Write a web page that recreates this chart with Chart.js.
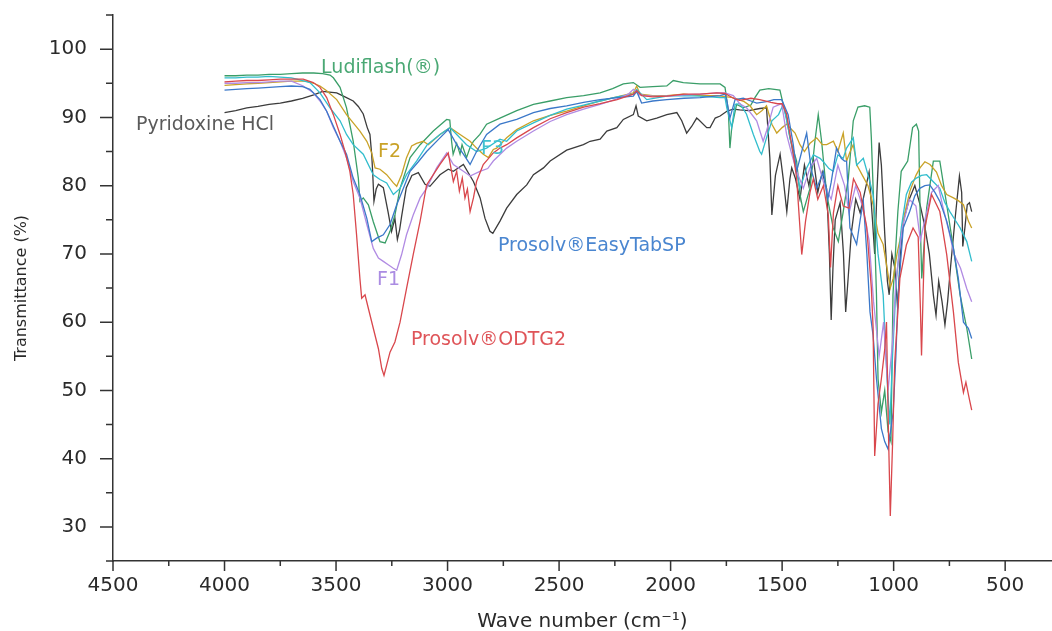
<!DOCTYPE html>
<html>
<head>
<meta charset="utf-8">
<title>FTIR spectra</title>
<script src="https://cdn.jsdelivr.net/npm/chart.js@4.4.1/dist/chart.umd.min.js"></script>
<style>
  html, body { margin: 0; padding: 0; background: #ffffff; }
  #wrap { width: 1052px; height: 631px; position: relative; }
</style>
</head>
<body>
<div id="wrap"><canvas id="ftirChart"></canvas></div>
<script>
// [wave number (cm-1), transmittance (%)]
const pyridoxine = [
  [4000, 90.7], [3950, 91.0], [3900, 91.4], [3850, 91.6], [3800, 91.9], [3750, 92.1], [3700, 92.4],
  [3650, 92.8], [3600, 93.3], [3560, 93.8], [3530, 93.7], [3497, 93.6], [3460, 93.0], [3423, 92.4],
  [3400, 91.6], [3378, 90.5], [3360, 88.5], [3348, 87.5], [3340, 84.5], [3336, 82.1], [3330, 77.7],
  [3320, 79.5], [3310, 80.2], [3288, 79.7], [3267, 76.2], [3251, 73.3], [3236, 75.2], [3225, 72.1],
  [3215, 73.5], [3206, 75.5], [3185, 79.7], [3160, 81.5], [3131, 81.9], [3101, 80.2], [3079, 79.9],
  [3034, 81.6], [2997, 82.4], [2974, 82.1], [2929, 83.1], [2884, 80.6], [2854, 78.2], [2832, 75.2],
  [2810, 73.3], [2797, 73.0], [2765, 74.8], [2735, 76.7], [2690, 78.7], [2645, 80.1], [2615, 81.6],
  [2570, 82.6], [2540, 83.6], [2466, 85.2], [2391, 86.0], [2361, 86.5], [2316, 86.8], [2286, 88.0],
  [2241, 88.5], [2212, 89.7], [2167, 90.4], [2155, 91.7], [2145, 90.2], [2107, 89.5], [2062, 89.9],
  [2017, 90.4], [1972, 90.7], [1950, 89.5], [1928, 87.7], [1905, 88.7], [1883, 89.9], [1875, 89.7],
  [1838, 88.5], [1823, 88.5], [1800, 89.9], [1778, 90.2], [1748, 90.9], [1720, 91.2], [1690, 91.1],
  [1650, 91.0], [1600, 91.3], [1570, 91.4], [1555, 84.0], [1546, 75.7], [1530, 81.5], [1509, 84.6],
  [1495, 81.0], [1479, 76.2], [1465, 81.0], [1457, 82.6], [1440, 81.0], [1420, 78.0], [1400, 83.0],
  [1380, 80.0], [1360, 84.0], [1340, 79.0], [1320, 82.0], [1300, 79.5], [1288, 70.0], [1280, 60.3],
  [1272, 68.0], [1262, 75.0], [1240, 77.5], [1225, 70.0], [1215, 61.5], [1205, 66.0], [1190, 73.0],
  [1170, 78.0], [1150, 76.0], [1130, 79.0], [1110, 82.0], [1095, 75.0], [1085, 70.0], [1075, 79.0],
  [1065, 86.3], [1055, 83.0], [1040, 73.0], [1028, 66.0], [1020, 64.0], [1008, 70.0], [995, 68.0],
  [982, 62.0], [970, 70.0], [955, 75.0], [930, 78.0], [905, 80.0], [880, 77.0], [860, 74.0],
  [840, 70.0], [822, 64.0], [810, 61.0], [798, 66.0], [783, 63.0], [770, 59.6], [758, 63.0],
  [745, 68.0], [725, 75.0], [705, 81.4], [695, 79.0], [690, 71.1], [680, 74.0], [670, 77.2],
  [660, 77.5], [650, 76.2]
];

const ludiflash = [
  [4000, 96.1], [3950, 96.1], [3900, 96.2], [3850, 96.2], [3800, 96.3], [3750, 96.3], [3700, 96.4],
  [3650, 96.5], [3600, 96.5], [3560, 96.4], [3527, 96.2], [3512, 95.8], [3482, 94.4], [3453, 91.4],
  [3423, 86.5], [3400, 81.1], [3393, 77.7], [3378, 78.2], [3355, 77.2], [3333, 74.7], [3303, 71.8],
  [3280, 71.6], [3258, 73.3], [3236, 75.7], [3213, 79.6], [3168, 84.1], [3123, 86.0], [3064, 88.0],
  [3004, 89.7], [2990, 89.6], [2982, 86.5], [2975, 84.6], [2959, 86.2], [2944, 84.6], [2935, 86.0],
  [2915, 84.1], [2900, 85.5], [2884, 86.5], [2855, 87.5], [2825, 89.0], [2765, 89.9], [2690, 91.0],
  [2615, 91.9], [2540, 92.4], [2466, 92.9], [2390, 93.2], [2316, 93.6], [2260, 94.2], [2212, 94.9],
  [2167, 95.1], [2137, 94.4], [2080, 94.5], [2017, 94.6], [1988, 95.4], [1943, 95.1], [1868, 94.9],
  [1778, 94.9], [1756, 94.4], [1741, 90.9], [1734, 85.5], [1726, 88.5], [1704, 91.9], [1674, 91.4],
  [1640, 91.8], [1622, 92.9], [1600, 94.0], [1560, 94.2], [1510, 94.0], [1495, 91.9], [1480, 89.9],
  [1465, 87.0], [1435, 83.6], [1420, 78.7], [1405, 76.2], [1375, 79.6], [1353, 86.5], [1338, 90.4],
  [1323, 86.5], [1300, 78.7], [1271, 73.8], [1248, 71.8], [1226, 76.2], [1203, 81.1], [1181, 89.5],
  [1160, 91.5], [1130, 91.7], [1107, 91.5], [1100, 87.0], [1088, 76.0], [1077, 64.0], [1070, 51.7],
  [1055, 46.8], [1040, 50.0], [1025, 44.0], [1012, 42.5], [1003, 64.0], [981, 76.2], [966, 82.1],
  [937, 83.6], [915, 88.5], [898, 89.0], [888, 88.0], [880, 73.8], [874, 66.4], [852, 76.7],
  [822, 83.6], [793, 83.6], [762, 77.2], [732, 70.8], [702, 64.0], [672, 59.1], [650, 54.6]
];

const f2 = [
  [4000, 94.7], [3950, 94.8], [3900, 94.9], [3850, 95.0], [3800, 95.1], [3750, 95.2], [3700, 95.3],
  [3633, 95.3], [3600, 95.0], [3572, 94.6], [3542, 93.9], [3497, 92.6], [3453, 90.4], [3423, 89.2],
  [3393, 88.0], [3362, 86.5], [3340, 84.8], [3325, 82.6], [3303, 82.4], [3273, 81.6], [3243, 80.4],
  [3228, 79.9], [3206, 81.6], [3184, 84.1], [3161, 85.8], [3139, 86.2], [3109, 86.5], [3086, 86.0],
  [3034, 87.5], [2989, 88.5], [2944, 87.5], [2899, 86.5], [2870, 85.5], [2840, 84.6], [2817, 84.1],
  [2795, 85.3], [2780, 85.5], [2735, 87.0], [2690, 88.2], [2615, 89.5], [2540, 90.3], [2466, 90.9],
  [2390, 91.7], [2316, 92.4], [2240, 93.0], [2167, 93.6], [2152, 94.6], [2137, 93.4], [2080, 93.2],
  [2017, 93.2], [1943, 93.4], [1868, 93.2], [1793, 93.2], [1719, 92.9], [1670, 92.3], [1644, 91.7],
  [1614, 90.4], [1590, 91.0], [1570, 91.7], [1546, 89.0], [1524, 87.7], [1500, 88.5], [1480, 89.0],
  [1442, 87.7], [1420, 86.0], [1400, 85.0], [1375, 86.2], [1345, 87.0], [1320, 86.0], [1300, 86.0],
  [1270, 86.5], [1250, 85.0], [1226, 87.7], [1211, 83.6], [1195, 85.0], [1181, 86.0], [1165, 83.0],
  [1140, 81.5], [1115, 80.0], [1092, 77.2], [1070, 73.0], [1047, 71.4], [1030, 68.0], [1015, 65.0],
  [1002, 66.4], [985, 70.0], [972, 72.0], [950, 76.0], [927, 79.2], [900, 81.5], [882, 82.6],
  [860, 83.5], [837, 83.1], [808, 82.0], [785, 80.0], [762, 78.7], [732, 78.2], [710, 77.8],
  [687, 77.2], [665, 74.8], [650, 73.8]
];

const f3 = [
  [4000, 95.8], [3950, 95.8], [3900, 95.9], [3850, 95.9], [3800, 96.0], [3750, 95.9], [3700, 95.8],
  [3676, 95.6], [3617, 95.1], [3572, 93.6], [3527, 91.4], [3482, 89.5], [3453, 87.5], [3423, 86.0],
  [3378, 84.6], [3333, 81.6], [3303, 80.9], [3273, 80.4], [3243, 78.7], [3213, 79.6], [3184, 81.6],
  [3139, 83.6], [3091, 86.0], [3034, 87.5], [2989, 88.5], [2959, 87.5], [2915, 86.0], [2870, 85.0],
  [2825, 85.5], [2765, 86.8], [2735, 86.5], [2690, 88.0], [2615, 89.2], [2540, 90.3], [2466, 91.2],
  [2390, 91.8], [2316, 92.4], [2240, 93.0], [2167, 93.4], [2152, 94.1], [2107, 92.6], [2017, 93.1],
  [1940, 93.2], [1868, 93.1], [1778, 92.9], [1756, 92.9], [1748, 91.4], [1726, 88.5], [1711, 91.9],
  [1689, 92.0], [1660, 90.5], [1629, 87.5], [1600, 85.0], [1592, 84.6], [1570, 87.0], [1546, 89.5],
  [1516, 90.4], [1495, 91.9], [1473, 88.5], [1442, 83.1], [1420, 79.6], [1390, 82.6], [1360, 84.5],
  [1330, 84.0], [1315, 83.5], [1290, 82.5], [1271, 82.1], [1250, 84.5], [1226, 84.0], [1211, 85.5],
  [1181, 87.0], [1166, 83.0], [1136, 84.0], [1110, 81.0], [1092, 78.7], [1070, 70.0], [1047, 64.0],
  [1030, 52.0], [1017, 45.0], [1005, 55.0], [988, 66.0], [965, 74.0], [943, 78.7], [920, 80.5],
  [898, 81.1], [875, 81.5], [852, 81.6], [820, 80.5], [793, 79.6], [770, 77.5], [748, 76.2],
  [725, 75.0], [702, 73.8], [672, 71.8], [650, 68.9]
];

const easyTabSP = [
  [4000, 94.0], [3950, 94.1], [3900, 94.2], [3850, 94.3], [3800, 94.4], [3750, 94.5], [3700, 94.6],
  [3650, 94.5], [3617, 94.1], [3572, 92.6], [3542, 90.9], [3512, 88.7], [3482, 86.5], [3453, 84.6],
  [3423, 81.1], [3393, 78.7], [3362, 75.2], [3340, 71.8], [3318, 72.3], [3288, 72.8], [3258, 74.3],
  [3228, 77.2], [3198, 79.6], [3168, 82.1], [3131, 83.5], [3094, 85.0], [3034, 87.0], [2997, 88.2],
  [2959, 86.0], [2929, 84.6], [2899, 83.1], [2870, 85.0], [2825, 87.5], [2765, 89.0], [2690, 89.7],
  [2615, 90.7], [2540, 91.3], [2466, 91.7], [2390, 92.2], [2316, 92.6], [2240, 92.9], [2167, 93.1],
  [2152, 93.8], [2130, 92.1], [2080, 92.4], [2017, 92.6], [1940, 92.8], [1868, 92.9], [1778, 93.2],
  [1756, 93.4], [1748, 92.5], [1734, 89.9], [1711, 92.6], [1674, 92.8], [1640, 92.4], [1614, 92.1],
  [1570, 92.3], [1537, 92.6], [1502, 92.6], [1473, 90.4], [1450, 86.0], [1435, 82.1], [1412, 85.0],
  [1390, 87.7], [1368, 82.1], [1345, 79.6], [1315, 82.0], [1295, 78.0], [1280, 80.5], [1256, 85.5],
  [1235, 84.0], [1220, 83.6], [1211, 83.6], [1196, 73.8], [1180, 72.5], [1166, 71.4], [1150, 75.0],
  [1136, 77.7], [1120, 70.0], [1106, 61.5], [1092, 58.0], [1077, 51.7], [1055, 44.4], [1040, 42.5],
  [1025, 41.4], [1002, 46.8], [990, 55.0], [980, 64.0], [957, 73.8], [928, 76.2], [905, 78.5],
  [883, 79.6], [860, 80.0], [838, 80.1], [815, 79.0], [793, 77.7], [762, 74.8], [732, 70.8],
  [710, 66.4], [687, 60.0], [665, 59.1], [650, 57.6]
];

const f1 = [
  [4000, 95.0], [3950, 95.0], [3900, 95.1], [3850, 95.1], [3800, 95.2], [3750, 95.3], [3700, 95.3],
  [3647, 94.6], [3602, 93.6], [3572, 92.4], [3542, 90.9], [3512, 88.5], [3482, 86.5], [3453, 84.1],
  [3423, 80.6], [3393, 78.2], [3362, 74.3], [3333, 70.8], [3310, 69.4], [3288, 68.9], [3266, 68.4],
  [3243, 67.9], [3228, 67.6], [3206, 69.9], [3184, 72.8], [3154, 75.7], [3123, 78.2], [3094, 79.6],
  [3049, 82.6], [3004, 84.8], [2974, 83.1], [2929, 82.1], [2899, 81.4], [2855, 82.1], [2820, 82.5],
  [2795, 83.6], [2735, 85.5], [2690, 86.5], [2615, 88.0], [2540, 89.4], [2466, 90.4], [2390, 91.2],
  [2316, 91.9], [2240, 92.7], [2190, 93.4], [2167, 94.1], [2140, 93.3], [2080, 93.1], [2017, 93.1],
  [1940, 93.3], [1868, 93.4], [1793, 93.6], [1756, 93.6], [1719, 93.2], [1690, 92.0], [1659, 91.4],
  [1614, 89.5], [1585, 86.5], [1570, 88.0], [1540, 91.5], [1502, 92.0], [1480, 87.5], [1460, 85.0],
  [1435, 82.1], [1405, 79.6], [1375, 82.6], [1345, 84.0], [1310, 80.0], [1280, 78.0], [1250, 83.0],
  [1220, 80.0], [1200, 76.0], [1170, 80.0], [1140, 77.0], [1110, 72.0], [1090, 63.0], [1065, 55.0],
  [1045, 60.0], [1025, 50.0], [1005, 57.0], [990, 66.0], [960, 74.0], [930, 78.0], [900, 77.0],
  [880, 72.0], [860, 75.0], [830, 79.0], [800, 80.0], [780, 77.0], [750, 73.0], [730, 70.0],
  [700, 67.9], [672, 64.9], [650, 63.0]
];

const odtg2 = [
  [4000, 95.2], [3950, 95.3], [3900, 95.4], [3850, 95.4], [3800, 95.5], [3750, 95.6], [3700, 95.6],
  [3647, 95.6], [3602, 95.1], [3572, 94.4], [3542, 92.9], [3512, 90.4], [3482, 87.5], [3460, 85.0],
  [3438, 82.1], [3423, 78.7], [3408, 72.8], [3393, 66.4], [3385, 63.5], [3370, 64.0], [3355, 62.0],
  [3333, 59.1], [3310, 56.1], [3295, 53.2], [3285, 52.2], [3273, 53.7], [3258, 55.6], [3236, 57.1],
  [3213, 60.0], [3184, 64.9], [3154, 69.9], [3123, 74.8], [3094, 80.1], [3034, 83.1], [2997, 84.8],
  [2974, 80.6], [2959, 82.1], [2947, 79.2], [2934, 81.1], [2922, 78.2], [2911, 79.5], [2899, 76.2],
  [2884, 78.2], [2870, 80.6], [2840, 83.1], [2795, 84.8], [2765, 85.5], [2735, 86.0], [2690, 87.0],
  [2615, 88.5], [2540, 89.8], [2466, 90.7], [2390, 91.5], [2316, 92.0], [2240, 92.6], [2167, 93.4],
  [2152, 93.9], [2130, 93.2], [2080, 93.0], [2017, 93.1], [1940, 93.4], [1868, 93.4], [1793, 93.6],
  [1756, 93.5], [1719, 92.8], [1690, 92.5], [1640, 92.8], [1600, 92.6], [1550, 92.2], [1520, 92.0],
  [1500, 92.0], [1480, 90.5], [1450, 84.6], [1435, 81.1], [1420, 73.8], [1412, 69.9], [1395, 74.8],
  [1375, 79.0], [1360, 81.0], [1340, 78.0], [1315, 80.0], [1293, 75.7], [1283, 68.0], [1270, 76.0],
  [1250, 80.0], [1226, 77.0], [1200, 76.7], [1180, 81.0], [1150, 79.0], [1121, 74.0], [1100, 65.0],
  [1092, 59.1], [1085, 40.4], [1070, 48.0], [1055, 51.7], [1040, 56.0], [1032, 60.0], [1024, 45.0],
  [1015, 31.6], [1005, 42.0], [995, 54.1], [972, 66.4], [943, 71.3], [913, 73.8], [890, 72.5],
  [880, 62.0], [875, 55.1], [868, 64.0], [860, 73.8], [830, 78.7], [793, 76.2], [762, 69.9],
  [732, 61.5], [710, 54.1], [687, 49.7], [676, 51.2], [661, 48.8], [650, 47.1]
];

const seriesNames = ['Prosolv®ODTG2', 'Prosolv®EasyTabSP', 'F1', 'F3', 'F2', 'Ludiflash(®)', 'Pyridoxine HCl'];
const seriesData = [odtg2, easyTabSP, f1, f3, f2, ludiflash, pyridoxine];
const seriesColors = ['#d9474c', '#3b78c9', '#b18be3', '#31bdcd', '#c9a227', '#3a9e68', '#3c3c3c'];

// tick positions: majors carry a label, the ones in between are minor
const xTickValues = [4500, 4250, 4000, 3750, 3500, 3250, 3000, 2750, 2500, 2250, 2000, 1750, 1500, 1250, 1000, 750, 500];
const yTickValues = [25, 30, 35, 40, 45, 50, 55, 60, 65, 70, 75, 80, 85, 90, 95, 100, 105];

// in-plot curve labels: [text, wave number, transmittance, colour]
const curveLabels = [
  ['Ludiflash(®)', 3567, 97.25, '#4aa874'],
  ['Pyridoxine HCl', 4397, 88.9, '#5a5a5a'],
  ['F2', 3312, 84.9, '#c9a227'],
  ['F3', 2850, 85.3, '#40c2d0'],
  ['Prosolv®EasyTabSP', 2774, 71.1, '#4a86d0'],
  ['F1', 3316, 66.1, '#ab8ce2'],
  ['Prosolv®ODTG2', 3164, 57.3, '#df5458']
];

const axisColor = '#333333';
const fontFamily = '"DejaVu Sans", "Liberation Sans", sans-serif';

const tickMarks = {
  id: 'tickMarks',
  afterDraw(chart) {
    const {ctx, scales: {x, y}} = chart;
    ctx.save();
    ctx.strokeStyle = axisColor;
    ctx.lineWidth = 1.5;
    ctx.beginPath();
    x.ticks.forEach(t => {
      const px = x.getPixelForValue(t.value);
      const len = t.value % 500 === 0 ? 10 : 5;
      ctx.moveTo(px, x.top);
      ctx.lineTo(px, x.top + len);
    });
    y.ticks.forEach(t => {
      const py = y.getPixelForValue(t.value);
      const len = t.value % 10 === 0 ? 13 : 7;
      ctx.moveTo(y.right - len, py);
      ctx.lineTo(y.right, py);
    });
    ctx.stroke();
    ctx.restore();
  }
};

const curveLabelPlugin = {
  id: 'curveLabels',
  afterDatasetsDraw(chart) {
    const {ctx, scales: {x, y}} = chart;
    ctx.save();
    ctx.font = '19px ' + fontFamily;
    ctx.textAlign = 'left';
    ctx.textBaseline = 'middle';
    curveLabels.forEach(([text, wn, t, color]) => {
      ctx.fillStyle = color;
      ctx.fillText(text, x.getPixelForValue(wn), y.getPixelForValue(t));
    });
    ctx.restore();
  }
};

const ctx = document.getElementById('ftirChart').getContext('2d');
new Chart(ctx, {
  type: 'line',
  data: {
    datasets: seriesData.map((pts, i) => ({
      label: seriesNames[i],
      data: pts.map(([wn, t]) => ({x: wn, y: t})),
      borderColor: seriesColors[i],
      borderWidth: 1.3,
      pointRadius: 0,
      tension: 0,
      fill: false
    }))
  },
  options: {
    responsive: true,
    maintainAspectRatio: false,
    animation: false,
    layout: {padding: {top: 15, right: 0, bottom: 0, left: 0}},
    plugins: {
      legend: {display: false},
      tooltip: {enabled: false}
    },
    scales: {
      x: {
        type: 'linear',
        reverse: true,
        min: 290,
        max: 4500,
        afterBuildTicks: (s) => { s.ticks = xTickValues.map(v => ({value: v})); },
        afterFit: (s) => {
          s.height = 70;
          s.paddingLeft = 0;
          s.paddingRight = 0;
        },
        grid: {display: false, drawTicks: false},
        border: {display: true, color: axisColor, width: 1.5},
        ticks: {
          autoSkip: false,
          maxRotation: 0,
          padding: 13,
          color: '#2a2a2a',
          font: {family: fontFamily, size: 20},
          callback: (v) => (v % 500 === 0 ? v : '')
        },
        title: {
          display: true,
          text: 'Wave number (cm⁻¹)',
          color: '#2a2a2a',
          font: {family: fontFamily, size: 20},
          padding: {top: 0, bottom: -3}
        }
      },
      y: {
        min: 25,
        max: 105,
        afterBuildTicks: (s) => { s.ticks = yTickValues.map(v => ({value: v})); },
        afterFit: (s) => {
          s.width = 113;
          s.paddingTop = 0;
          s.paddingBottom = 0;
        },
        grid: {display: false, drawTicks: false},
        border: {display: true, color: axisColor, width: 1.5},
        ticks: {
          autoSkip: false,
          padding: 26,
          color: '#2a2a2a',
          font: {family: fontFamily, size: 20},
          callback: (v) => (v % 10 === 0 ? v : '')
        },
        title: {
          display: true,
          text: 'Transmittance (%)',
          color: '#2a2a2a',
          font: {family: fontFamily, size: 16},
          padding: {top: 12, bottom: 0}
        }
      }
    }
  },
  plugins: [tickMarks, curveLabelPlugin]
});
</script>
</body>
</html>
